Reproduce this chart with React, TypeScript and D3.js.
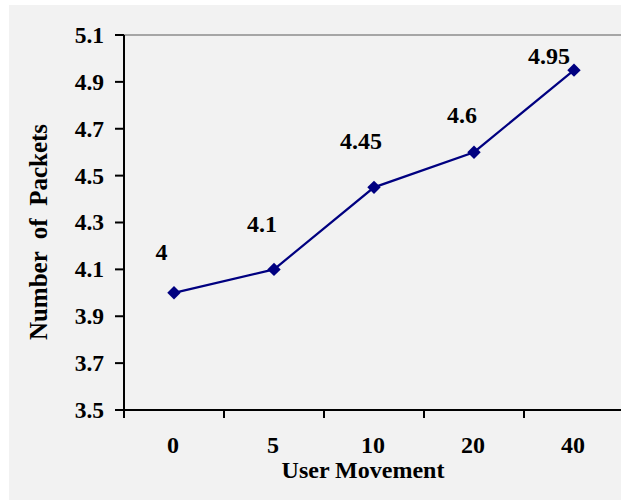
import React from "react";
import * as d3 from "d3";

const categories = ["0", "5", "10", "20", "40"];
const packets = [4, 4.1, 4.45, 4.6, 4.95];
const labelTexts = ["4", "4.1", "4.45", "4.6", "4.95"];
const yTicks = [3.5, 3.7, 3.9, 4.1, 4.3, 4.5, 4.7, 4.9, 5.1];

// hand-placed value label offsets (dx, baseline dy) relative to each marker
const labelOffsets: [number, number][] = [
  [-12.5, -33],
  [-12, -37],
  [-13, -38],
  [-12, -29],
  [-25, -6],
];

const W = 621;
const H = 500;
const left = 124;
const right = 624;
const top = 35;
const bottom = 410;

export default function App() {
  const x = d3.scaleBand<string>().domain(categories).range([left, right]);
  const y = d3.scaleLinear().domain([3.5, 5.1]).range([bottom, top]);
  const cx = (c: string) => (x(c) ?? 0) + x.bandwidth() / 2;

  const line = d3
    .line<number>()
    .x((_, i) => cx(categories[i]))
    .y((d) => y(d));

  const font = "'Liberation Serif', 'Times New Roman', serif";
  const diamond = d3.symbol(d3.symbolDiamond2, 115)();

  return (
    <svg
      width={W}
      height={H}
      style={{ position: "absolute", left: 0, top: 0, display: "block" }}
      fontFamily={font}
      fontWeight="bold"
    >
      <rect x={0} y={0} width={W} height={H} fill="#ffffff" />
      <rect x={9} y={5} width={W - 9} height={H - 5} fill="#f2f2f2" />

      {/* top frame line */}
      <line x1={left} x2={W} y1={y(5.1)} y2={y(5.1)} stroke="#8c8c8c" strokeWidth={1.5} />

      {/* y axis */}
      <line x1={left} x2={left} y1={top} y2={bottom + 1} stroke="#000" strokeWidth={2} />
      {yTicks.map((t) => (
        <g key={t}>
          <line x1={left - 9} x2={left} y1={y(t)} y2={y(t)} stroke="#000" strokeWidth={2} />
          <text x={104} y={y(t)} dy="0.34em" textAnchor="end" fontSize={23.5}>
            {t.toFixed(1)}
          </text>
        </g>
      ))}

      {/* x axis */}
      <line x1={left - 1} x2={W} y1={bottom} y2={bottom} stroke="#000" strokeWidth={2} />
      {categories.map((c) => (
        <g key={c}>
          <line
            x1={x(c) ?? 0}
            x2={x(c) ?? 0}
            y1={bottom}
            y2={bottom + 8}
            stroke="#000"
            strokeWidth={2}
          />
          <text x={cx(c) - 1} y={453} textAnchor="middle" fontSize={24}>
            {c}
          </text>
        </g>
      ))}

      {/* axis titles */}
      <text x={363} y={478} textAnchor="middle" fontSize={24}>
        User Movement
      </text>
      <text
        transform={`translate(47, 232) rotate(-90)`}
        textAnchor="middle"
        fontSize={25}
        style={{ whiteSpace: "pre" }}
      >
        {"Number  of  Packets"}
      </text>

      {/* series */}
      <path d={line(packets) ?? ""} fill="none" stroke="#000080" strokeWidth={2.2} />
      {packets.map((v, i) => (
        <path
          key={i}
          d={diamond ?? ""}
          transform={`translate(${cx(categories[i])}, ${y(v)})`}
          fill="#000080"
        />
      ))}
      {packets.map((v, i) => (
        <text
          key={"l" + i}
          x={cx(categories[i]) + labelOffsets[i][0]}
          y={y(v) + labelOffsets[i][1]}
          textAnchor="middle"
          fontSize={24}
        >
          {labelTexts[i]}
        </text>
      ))}
    </svg>
  );
}
